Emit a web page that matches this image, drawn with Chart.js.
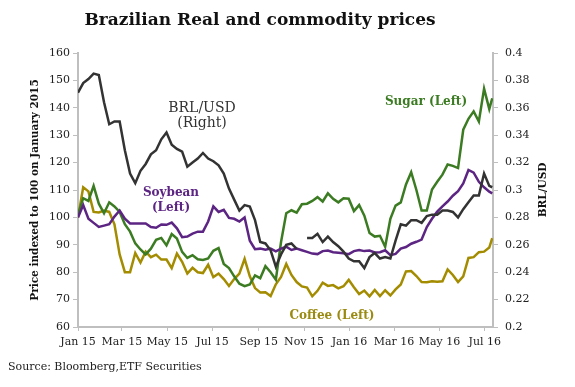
<!DOCTYPE html>
<html><head><meta charset="utf-8">
<script src="https://cdn.jsdelivr.net/npm/chart.js@4.4.0/dist/chart.umd.min.js"></script>
<style>html,body{margin:0;padding:0;background:#fff}#wrap{width:575px;height:387px;position:relative}</style>
</head><body><div id="wrap"><canvas id="c" width="575" height="387"></canvas></div>
<script>
// Days since 1 Jan 2015 (weekly observations)
const days = [0,7,14,21,28,35,42,49,56,63,70,77,84,91,98,105,112,119,126,133,140,147,154,161,168,175,182,189,196,203,210,217,224,231,238,245,252,259,266,273,280,287,294,301,308,315,322,329,336,343,350,357,364,371,378,385,392,399,406,413,420,427,434,441,448,455,462,469,476,483,490,497,504,511,518,525,532,539,546,553,557];

// BRL/USD (right axis)
const brlUsd = [0.371,0.378,0.381,0.385,0.384,0.364,0.348,0.350,0.350,0.329,0.312,0.305,0.314,0.319,0.326,0.329,0.337,0.342,0.333,0.330,0.328,0.317,0.320,0.323,0.327,0.323,0.321,0.318,0.312,0.301,0.293,0.285,0.289,0.288,0.278,0.262,0.261,0.256,0.244,0.253,0.260,0.261,0.257,null,0.265,0.265,0.268,0.262,0.266,0.262,0.259,0.255,0.250,0.248,0.248,0.243,0.251,0.254,0.250,0.251,0.250,0.263,0.275,0.274,0.278,0.278,0.276,0.281,0.282,0.282,0.285,0.285,0.284,0.280,0.286,0.291,0.296,0.296,0.312,0.303,0.302];

// Commodity prices indexed to 100 (left axis)
const sugar = [101,107,106,111.5,105,101.5,105.5,104,102,97.5,94.8,90.5,88.3,86.5,88.6,91.8,92.5,89.8,93.9,92.3,87.4,85.2,86.2,84.7,84.5,85,87.8,88.8,83,81.5,78.5,75.8,74.9,75.5,78.8,77.8,82.2,80,77.3,91,101.5,102.6,101.7,104.8,105,106,107.4,105.8,108.8,106.8,105.5,107,106.8,102.3,104.5,100.6,94.3,93,93.3,89.3,99.5,104.3,105.5,112,116.5,110,102.5,102.5,110.2,113,115.6,119.3,118.8,118,132,136,138.7,135,147,139.5,143.5];
const soybean = [100,104.5,99.5,98,96.5,97,97.5,100.3,102.5,99.5,97.8,97.8,97.8,97.8,96.5,96.2,97.4,97.3,98.1,96,92.8,93,94.1,94.8,94.8,98.5,104,102,102.8,99.8,99.5,98.5,100,91.5,88.4,88.6,88.2,88.6,87.6,88.6,89.3,88.1,88.6,88,87.4,86.8,86.6,87.7,87.9,87.3,87.1,86.9,86.6,87.7,88.1,87.7,87.9,87.2,87.3,88,86.2,86.7,88.6,89.2,90.4,91.1,91.9,96.5,99.5,102.1,104,105.8,107.9,109.6,112.4,117.3,116.3,113,111,109.4,108.8];
const coffee = [100,111,109.5,102,101.8,102.5,102,97.5,86.5,80,80,87,83.5,87.5,85.5,86.4,84.6,84.6,81.5,86.8,83.8,79.5,81.6,80,79.7,82.7,78.2,79.5,77.5,75,77.5,79.5,84.9,78.5,74.2,72.6,72.7,71.3,75.6,78.3,83,79,76.4,74.8,74.4,71.2,73.2,76.2,75,75.3,74.1,74.9,77.2,74.5,72,73.3,71.2,73.5,71.3,73.4,71.5,73.7,75.5,80.3,80.4,78.6,76.4,76.3,76.7,76.5,76.7,81,79,76.4,78.5,85.2,85.5,87.3,87.5,89,92.4];

// X tick positions (days since 1 Jan 2015) and labels
const xTickDays = [0,59,120,181,243,304,365,425,486,547];
const xTickLabels = ['Jan 15','Mar 15','May 15','Jul 15','Sep 15','Nov 15','Jan 16','Mar 16','May 16','Jul 16'];

const titleText = 'Brazilian Real and commodity prices';
const leftAxisTitle = 'Price indexed to 100 on January 2015';
const rightAxisTitle = 'BRL/USD';
const sourceText = 'Source: Bloomberg,ETF Securities';

const toXY = arr => arr.map((v,i)=>({x:days[i], y:v}));

const C_BRL = '#333333', C_SUGAR = '#3b7b22', C_SOY = '#5c2483', C_COFFEE = '#a38c00';

const textPlugin = {
  id:'texts',
  afterDraw(chart){
    const ctx = chart.ctx;
    ctx.save();
    ctx.textAlign='center'; ctx.textBaseline='middle';
    ctx.fillStyle='#111';
    ctx.font="bold 17px 'DejaVu Serif'";
    ctx.fillText(titleText, 260, 21);
    // series labels
    ctx.font="14px 'DejaVu Serif'"; ctx.fillStyle='#333';
    ctx.fillText('BRL/USD', 202, 108);
    ctx.fillText('(Right)', 202, 123);
    ctx.font="bold 12px 'DejaVu Serif'";
    ctx.fillStyle=C_SOY;
    ctx.fillText('Soybean', 171, 193);
    ctx.fillText('(Left)', 171, 208);
    ctx.fillStyle=C_SUGAR;
    ctx.fillText('Sugar (Left)', 426, 102);
    ctx.fillStyle='#9b8a10';
    ctx.fillText('Coffee (Left)', 332, 316);
    // right axis title
    ctx.save();
    ctx.translate(543,190); ctx.rotate(-Math.PI/2);
    ctx.fillStyle='#111';
    ctx.font="bold 10.5px 'DejaVu Serif'";
    ctx.fillText(rightAxisTitle,0,0);
    ctx.restore();
    // source
    ctx.textAlign='left';
    ctx.fillStyle='#222';
    ctx.font="11px 'DejaVu Serif'";
    ctx.fillText(sourceText, 8, 367);
    ctx.restore();
  }
};

const lineDs = (label, data, color, axis) => ({
  label, data: toXY(data), yAxisID: axis, borderColor: color, backgroundColor: color,
  borderWidth: 2.5, pointRadius: 0, tension: 0, spanGaps: false, fill: false
});

new Chart(document.getElementById('c'), {
  type:'line',
  data:{ datasets:[
    lineDs('BRL/USD (Right)', brlUsd, C_BRL, 'y1'),
    lineDs('Soybean (Left)', soybean, C_SOY, 'y'),
    lineDs('Sugar (Left)', sugar, C_SUGAR, 'y'),
    lineDs('Coffee (Left)', coffee, C_COFFEE, 'y')
  ]},
  options:{
    responsive:false, animation:false,
    layout:{padding:{top:53,bottom:30,left:0,right:0}},
    plugins:{legend:{display:false}, tooltip:{enabled:false}, title:{display:false}},
    scales:{
      x:{
        type:'linear', min:0, max:558,
        afterBuildTicks: s => { s.ticks = xTickDays.map(v=>({value:v})); },
        afterFit: s => { s.height = 30; },
        grid:{display:true, drawOnChartArea:false, drawTicks:true, tickLength:4, color:'#bfbfbf'},
        border:{display:true, color:'#bfbfbf', width:2},
        ticks:{autoSkip:false, maxRotation:0, padding:5, color:'#222',
          font:{family:'DejaVu Serif', size:11},
          callback:(v,i)=> xTickLabels[i]}
      },
      y:{
        position:'left', min:60, max:160,
        afterFit: s => { s.width = 78; },
        grid:{display:true, drawOnChartArea:false, drawTicks:true, tickLength:5, color:'#bfbfbf'},
        border:{display:true, color:'#bfbfbf', width:2},
        ticks:{stepSize:10, padding:3, color:'#222', font:{family:'DejaVu Serif', size:11}},
        title:{display:true, text:leftAxisTitle, color:'#111',
          font:{family:'DejaVu Serif', size:10.5, weight:'bold'}, padding:{top:28.7,bottom:0}}
      },
      y1:{
        position:'right', min:0.2, max:0.4,
        afterFit: s => { s.width = 82; },
        grid:{display:true, drawOnChartArea:false, drawTicks:true, tickLength:5, color:'#bfbfbf'},
        border:{display:true, color:'#bfbfbf', width:2},
        ticks:{stepSize:0.02, padding:7, color:'#222', font:{family:'DejaVu Serif', size:11},
          callback: v => String(parseFloat(v.toFixed(2)))}
      }
    }
  },
  plugins:[textPlugin]
});
</script>
</body></html>
